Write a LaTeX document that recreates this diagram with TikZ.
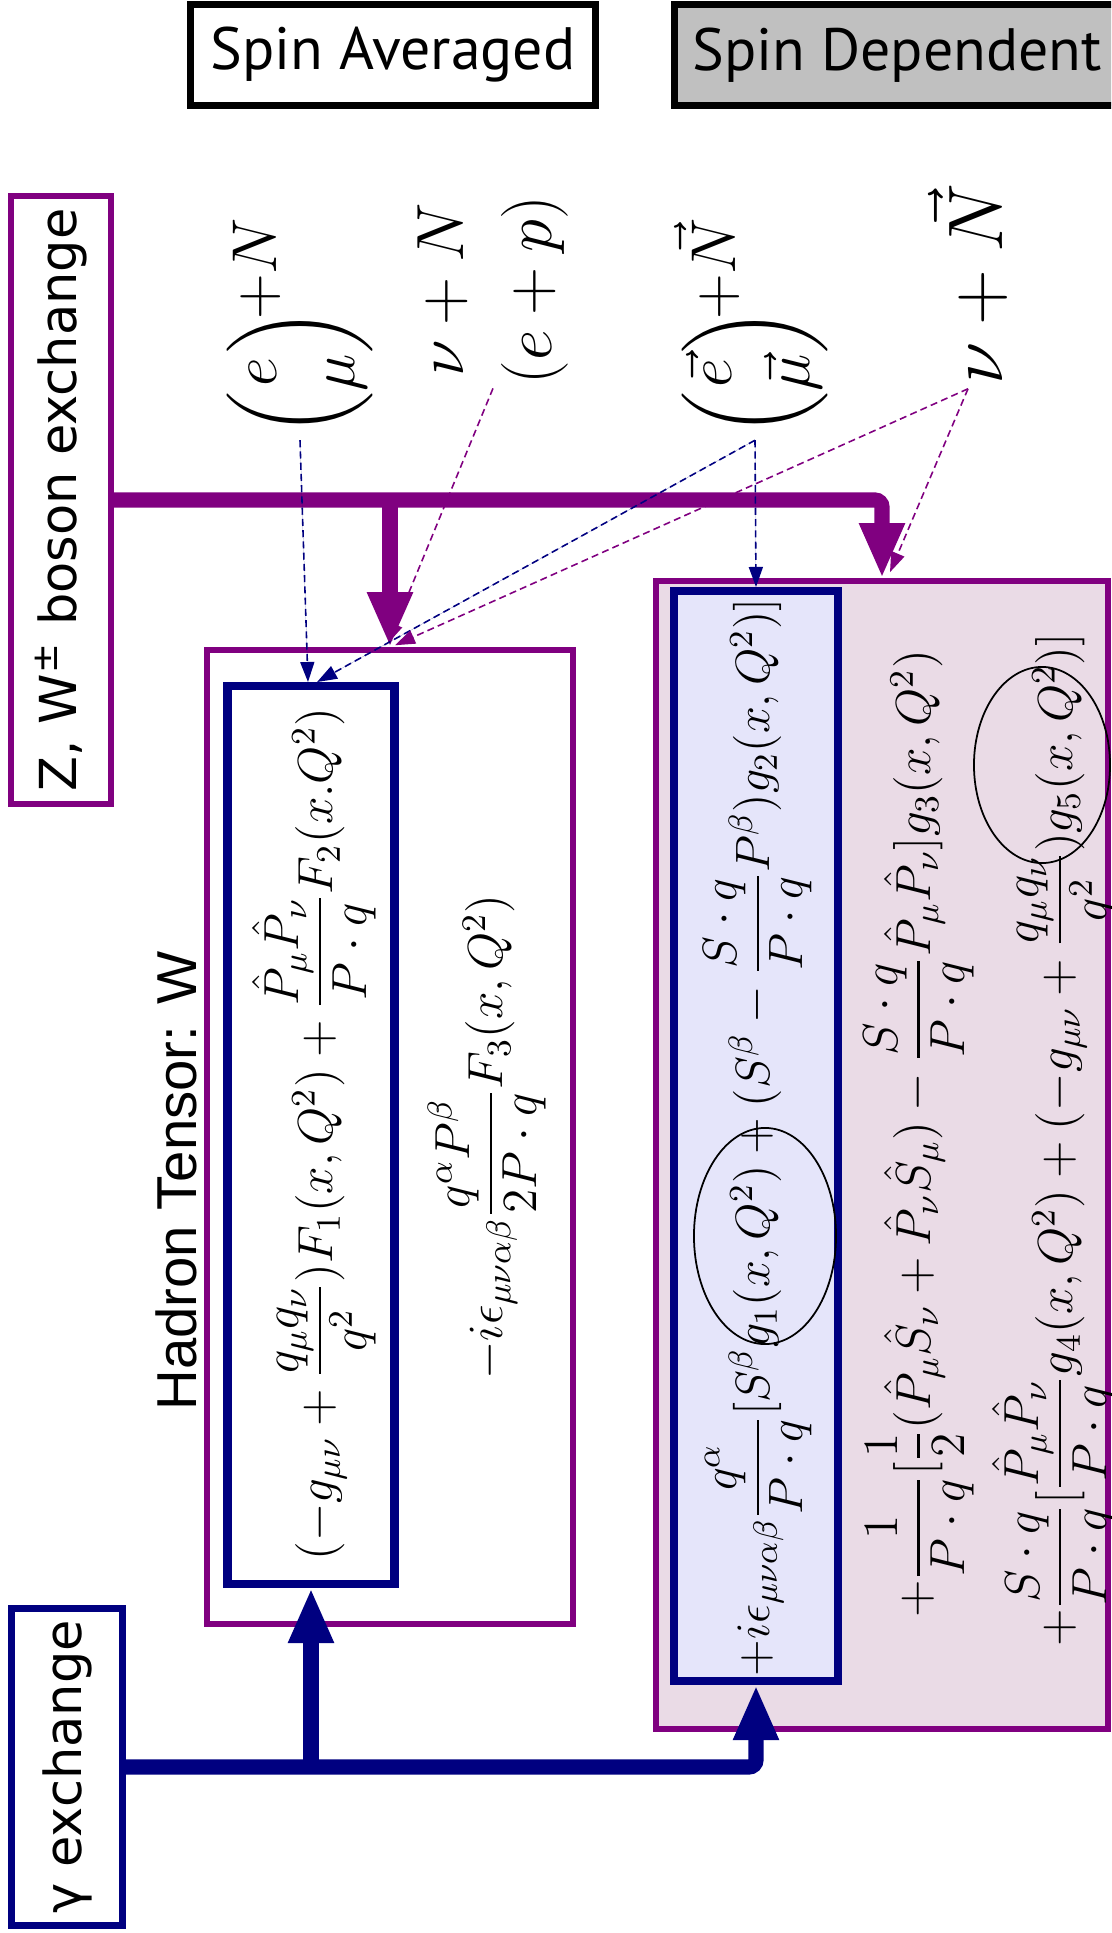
\RequirePackage{fix-cm}
\documentclass[tikz,border=0pt]{standalone}
\usepackage{amsmath}
\usepackage{fontspec}
\usepackage{xcolor}
\usepackage{tikz}
\usetikzlibrary{arrows.meta, positioning}
\newfontfamily\boxfont{PT Sans}
\newfontfamily\sidefont{DejaVu Sans}
\newfontfamily\arialfont{Liberation Sans}
\definecolor{bosonpurple}{RGB}{128,0,128}
\definecolor{photonnavy}{RGB}{0,0,128}
\definecolor{spinpink}{RGB}{234,219,230}
\definecolor{spinblue}{RGB}{229,229,250}
\definecolor{spingray}{RGB}{192,192,192}

\begin{document}
\begin{tikzpicture}[
  x=0.01cm, y=-0.01cm,
  hdrbox/.style={draw=black, line width=2.2pt, minimum height=1.01cm, inner sep=0pt, font=\boxfont\fontsize{17}{20}\selectfont},
  sidebox/.style={rotate=90, line width=1.8pt, minimum height=1cm, inner sep=0pt, font=\sidefont\fontsize{14.5}{17}\selectfont},
  outerbox/.style={draw=bosonpurple, line width=1.7pt, inner sep=0pt},
  innerbox/.style={draw=photonnavy, line width=2.4pt, inner sep=0pt},
  eqn/.style={rotate=90, inner sep=0pt, font=\fontsize{14}{17}\selectfont},
  lbl/.style={rotate=90, inner sep=1pt, font=\fontsize{19}{25}\selectfont, align=center},
  zarr/.style={draw=bosonpurple, line width=4.3pt, rounded corners=2pt, -{Triangle[length=0.55cm, width=0.42cm]}},
  garr/.style={draw=photonnavy, line width=4.3pt, rounded corners=2pt, -{Triangle[length=0.55cm, width=0.42cm]}},
  zdash/.style={draw=bosonpurple, line width=0.45pt, dash pattern=on 2pt off 1.2pt, -{Triangle[length=0.2cm, width=0.14cm]}},
  gdash/.style={draw=photonnavy, fill=photonnavy, line width=0.45pt, dash pattern=on 2pt off 1.2pt, -{Triangle[length=0.2cm, width=0.14cm]}}
]
\useasboundingbox (0,0) rectangle (1111,1933);
\clip (0,0) rectangle (1111,1933);

% header boxes
\node[hdrbox, minimum width=4.05cm] (avghdr) at (393,55) {Spin Averaged};
\node[hdrbox, fill=spingray, minimum width=4.45cm] (dephdr) at (897,55) {Spin Dependent};

% exchange boxes
\node[sidebox, draw=bosonpurple, minimum width=6.07cm] (zbox) at (61,500) {Z, W\textsuperscript{±} boson exchange};
\node[sidebox, draw=photonnavy, minimum width=3.17cm, minimum height=1.11cm] (gbox) at (67,1767) {γ exchange};

\node[rotate=90, font=\arialfont\fontsize{16}{19}\selectfont] (hadron) at (176,1181) {Hadron Tensor: W};

% tensor boxes
\node[outerbox, minimum width=3.66cm, minimum height=9.73cm] (avgouter) at (390,1137) {};
\node[innerbox, minimum width=1.67cm, minimum height=8.97cm] (avginner) at (311,1135) {};
\node[outerbox, fill=spinpink, minimum width=4.51cm, minimum height=11.47cm] (depouter) at (882,1155) {};
\node[innerbox, fill=spinblue, minimum width=1.64cm, minimum height=10.89cm] (depinner) at (756,1136) {};

% structure functions
\node[eqn] (f12) at (314,1134) {$(-g_{\mu\nu}+\dfrac{q_\mu q_\nu}{q^2})F_1(x,Q^2)+\dfrac{\hat P_\mu\hat P_\nu}{P\cdot q}F_2(x.Q^2)$};
\node[eqn] (f3) at (487,1137) {$-i\epsilon_{\mu\nu\alpha\beta}\dfrac{q^\alpha P^\beta}{2P\cdot q}F_3(x,Q^2)$};
\node[eqn, font=\fontsize{13.7}{17}\selectfont] (g12) at (758,1137) {$+i\epsilon_{\mu\nu\alpha\beta}\dfrac{q^\alpha}{P\cdot q}[S^\beta g_1(x,Q^2)+(S^\beta-\dfrac{S\cdot q}{P\cdot q}P^\beta)g_2(x,Q^2)]$};
\node[eqn] (g3) at (919,1134) {$+\dfrac{1}{P\cdot q}[\dfrac12(\hat P_\mu\hat S_\nu+\hat P_\nu\hat S_\mu)-\dfrac{S\cdot q}{P\cdot q}\hat P_\mu\hat P_\nu]g_3(x,Q^2)$};
\node[eqn] (g45) at (1054,1140) {$+\dfrac{S\cdot q}{P\cdot q}[\dfrac{\hat P_\mu\hat P_\nu}{P\cdot q}g_4(x,Q^2)+(-g_{\mu\nu}+\dfrac{q_\mu q_\nu}{q^2})g_5(x,Q^2)]$};
\draw[line width=0.5pt] (765,1236) ellipse [x radius=0.71cm, y radius=1.08cm];
\draw[line width=0.5pt] (1042,765) ellipse [x radius=0.68cm, y radius=0.98cm];

% processes
\node[lbl, font=\fontsize{18}{22}\selectfont] (lepN) at (300,327) {$\biggl(\begin{matrix}e\\ \mu\end{matrix}\biggr)\!\begin{matrix}+N\\ \phantom{\mu}\end{matrix}$};
\node[lbl] (nuN) at (493,290) {$\nu+N$\\$(e+p)$};
\node[lbl, font=\fontsize{18}{22}\selectfont] (lepNpol) at (755,327) {$\biggl(\begin{matrix}\vec e\\ \vec\mu\end{matrix}\biggr)\!\begin{matrix}+\vec N\\ \phantom{\mu}\end{matrix}$};
\node[lbl, font=\fontsize{22}{26}\selectfont] (nuNpol) at (968,284) {$\nu+\vec N$};

% exchange arrows
\draw[zarr] (zbox.south) -| (depouter.north);
\draw[zarr] (zbox.south -| avgouter.north) -- (avgouter.north);
\draw[garr] (gbox.south) -| (depinner.south);
\draw[garr] (gbox.south -| avginner.south) -- (avginner.south);

% which process feeds which term
\draw[gdash] (lepN.west) -- ([xshift=-0.03cm]avginner.north);
\draw[zdash] (nuN.west) -- ([xshift=-0.02cm, yshift=0.04cm]avgouter.north);
\draw[gdash] (lepNpol.west) -- ([xshift=0.06cm]avginner.north);
\draw[gdash] (lepNpol.west) -- (depinner.north);
\draw[zdash] (nuNpol.west) -- ([xshift=0.05cm, yshift=0.02cm]avgouter.north);
\draw[zdash] (nuNpol.west) -- ([xshift=0.08cm, yshift=0.06cm]depouter.north);
\end{tikzpicture}
\end{document}
